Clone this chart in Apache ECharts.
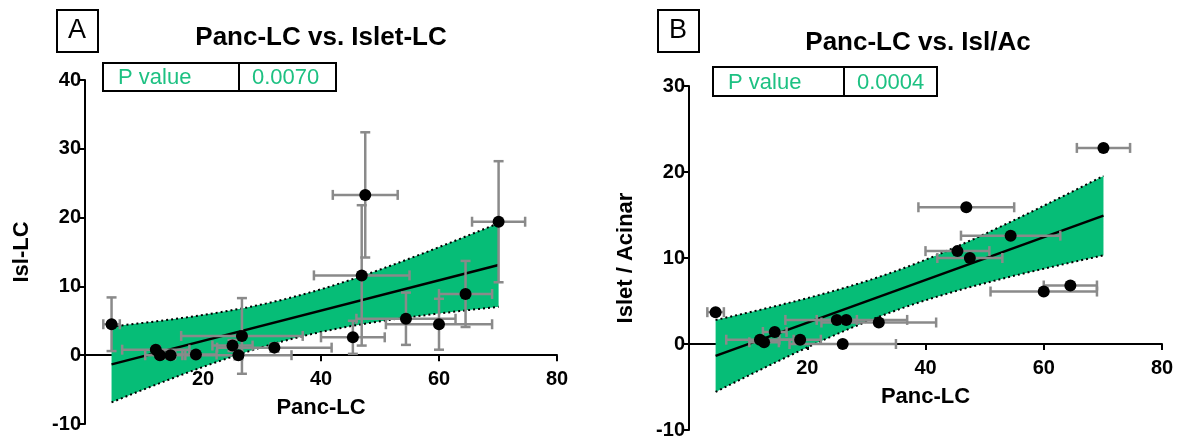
<!DOCTYPE html>
<html>
<head>
<meta charset="utf-8">
<script src="https://cdn.jsdelivr.net/npm/echarts@6.0.0/dist/echarts.min.js"></script>
<style>
  html, body { margin: 0; padding: 0; background: #ffffff; }
  #chart { width: 1177px; height: 438px; }
</style>
</head>
<body>
<div id="chart"></div>
<script>
// Pancreas lymphocyte counts (shared x values) with SEM
const pancLC    = [4.5, 12.0, 12.7, 14.5, 18.8, 25.0, 26.0, 26.6, 32.1, 45.4, 46.9, 47.5, 54.4, 60.0, 64.5, 70.1];
const pancLCErr = [1.4, 5.7, 2.5, 2.0, 3.5, 3.4, 9.0, 10.3, 9.7, 5.4, 8.1, 5.5, 8.4, 9.0, 4.5, 4.5];

// Panel A: islet lymphocyte counts with SEM
const isletLC    = [4.5, 0.8, 0.0, 0.0, 0.1, 1.4, 0.0, 2.8, 1.1, 2.6, 11.6, 23.3, 5.3, 4.5, 8.9, 19.4];
const isletLCErr = [3.9, 0.5, 0.5, 0.5, 0.5, 0.8, 0.6, 5.5, 0.6, 2.4, 10.2, 9.1, 3.8, 3.7, 4.8, 8.8];

// Panel B: islet / acinar ratio
const isletAcinar    = [3.7, 0.5, 0.2, 1.4, 0.5, 2.8, 0.0, 2.8, 2.5, 10.8, 15.9, 10.0, 12.6, 6.1, 6.8, 22.8];
const isletAcinarErr = [0, 0, 0, 0, 0, 0, 0, 0, 0, 0, 0, 0, 0, 0, 0, 0];

const pValueA = '0.0070';
const pValueB = '0.0004';
const xTicksLabels = [20, 40, 60, 80];

const GREEN = '#06BD77';
const GREEN_TEXT = '#1DC182';
const GRAY = '#8a8a8a';
const FONT = 'Arial, "Liberation Sans", Helvetica, sans-serif';
const T_CRIT = 2.145; // two-sided 95 %, df = n - 2 = 14

// Plot rectangles of the two panels
const GRID_A = { left: 85, top: 80, width: 472, height: 344 };
const GRID_B = { left: 689, top: 86, width: 473, height: 344 };
const Y_A = { min: -10, max: 40 };
const Y_B = { min: -10, max: 30 };

// Ordinary least squares fit with 95 % confidence band of the mean
function linearFit(xs, ys) {
  const n = xs.length;
  const mx = xs.reduce((a, b) => a + b, 0) / n;
  const my = ys.reduce((a, b) => a + b, 0) / n;
  let sxx = 0, sxy = 0;
  for (let i = 0; i < n; i++) { sxx += (xs[i] - mx) ** 2; sxy += (xs[i] - mx) * (ys[i] - my); }
  const slope = sxy / sxx;
  const icpt = my - slope * mx;
  let ssr = 0;
  for (let i = 0; i < n; i++) ssr += (ys[i] - (icpt + slope * xs[i])) ** 2;
  const s = Math.sqrt(ssr / (n - 2));
  const x0 = Math.min(...xs), x1 = Math.max(...xs);
  const line = [[x0, icpt + slope * x0], [x1, icpt + slope * x1]];
  const upper = [], lower = [];
  const steps = 60;
  for (let k = 0; k <= steps; k++) {
    const x = x0 + (x1 - x0) * k / steps;
    const yh = icpt + slope * x;
    const h = T_CRIT * s * Math.sqrt(1 / n + (x - mx) ** 2 / sxx);
    upper.push([x, yh + h]);
    lower.push([x, yh - h]);
  }
  return { line, upper, lower };
}

const fitA = linearFit(pancLC, isletLC);
const fitB = linearFit(pancLC, isletAcinar);

function bandSeries(fit, idx) {
  return {
    type: 'custom', xAxisIndex: idx, yAxisIndex: idx, z: 2, silent: true,
    data: [0],
    renderItem: (params, api) => {
      const pts = fit.upper.map(p => api.coord(p)).concat(fit.lower.slice().reverse().map(p => api.coord(p)));
      return { type: 'polygon', shape: { points: pts }, style: { fill: GREEN } };
    }
  };
}
function edgeSeries(data, idx) {
  return {
    type: 'line', xAxisIndex: idx, yAxisIndex: idx, z: 3, silent: true,
    data: data, showSymbol: false, symbol: 'none',
    lineStyle: { color: '#000', width: 2, type: [2, 3] }
  };
}
function fitLineSeries(fit, idx) {
  return {
    type: 'line', xAxisIndex: idx, yAxisIndex: idx, z: 4, silent: true,
    data: fit.line, showSymbol: false, symbol: 'none',
    lineStyle: { color: '#000', width: 2.5 }
  };
}
function errorSeries(xs, xe, ys, ye, idx) {
  const cap = 5;
  return {
    type: 'custom', xAxisIndex: idx, yAxisIndex: idx, z: 5, silent: true,
    data: xs.map((x, i) => [x, ys[i], xe[i], ye[i]]),
    renderItem: (params, api) => {
      const x = api.value(0), y = api.value(1), ex = api.value(2), ey = api.value(3);
      const st = { stroke: GRAY, lineWidth: 2.5 };
      const kids = [];
      if (ex > 0) {
        const a = api.coord([x - ex, y]), b = api.coord([x + ex, y]);
        kids.push({ type: 'line', shape: { x1: a[0], y1: a[1], x2: b[0], y2: b[1] }, style: st });
        kids.push({ type: 'line', shape: { x1: a[0], y1: a[1] - cap, x2: a[0], y2: a[1] + cap }, style: st });
        kids.push({ type: 'line', shape: { x1: b[0], y1: b[1] - cap, x2: b[0], y2: b[1] + cap }, style: st });
      }
      if (ey > 0) {
        const a = api.coord([x, y + ey]), b = api.coord([x, y - ey]);
        kids.push({ type: 'line', shape: { x1: a[0], y1: a[1], x2: b[0], y2: b[1] }, style: st });
        kids.push({ type: 'line', shape: { x1: a[0] - cap, y1: a[1], x2: a[0] + cap, y2: a[1] }, style: st });
        kids.push({ type: 'line', shape: { x1: b[0] - cap, y1: b[1], x2: b[0] + cap, y2: b[1] }, style: st });
      }
      return { type: 'group', children: kids };
    }
  };
}
function pointSeries(xs, ys, idx) {
  return {
    type: 'scatter', xAxisIndex: idx, yAxisIndex: idx, z: 6, silent: true,
    data: xs.map((x, i) => [x, ys[i]]),
    symbol: 'circle', symbolSize: 12, itemStyle: { color: '#000', opacity: 1 }
  };
}

// x axis drawn along y = 0: shift it up from the grid bottom by the height of the negative range
function xAxis(idx, grid, yr) {
  const zeroOffset = grid.height * (0 - yr.min) / (yr.max - yr.min);
  return {
    type: 'value', gridIndex: idx, min: 0, max: 80, interval: 20,
    position: 'bottom', offset: -zeroOffset,
    axisLine: { onZero: false, lineStyle: { color: '#000', width: 2 } },
    axisTick: { length: 6, lineStyle: { color: '#000', width: 2 } },
    axisLabel: {
      margin: 14, color: '#000', fontFamily: FONT, fontWeight: 'bold', fontSize: 20,
      formatter: v => (xTicksLabels.includes(v) ? String(v) : '')
    },
    splitLine: { show: false },
    name: 'Panc-LC', nameLocation: 'middle', nameGap: 42,
    nameTextStyle: { color: '#000', fontFamily: FONT, fontWeight: 'bold', fontSize: 22 }
  };
}
function yAxis(idx, yr, title) {
  return {
    type: 'value', gridIndex: idx, min: yr.min, max: yr.max, interval: 10,
    axisLine: { onZero: false, lineStyle: { color: '#000', width: 2 } },
    axisTick: { length: 7, lineStyle: { color: '#000', width: 2 } },
    axisLabel: { margin: 4, color: '#000', fontFamily: FONT, fontWeight: 'bold', fontSize: 20 },
    splitLine: { show: false },
    name: title, nameLocation: 'middle', nameGap: 52, nameRotate: 90,
    nameTextStyle: { color: '#000', fontFamily: FONT, fontWeight: 'bold', fontSize: 22 }
  };
}

function panelGraphics(letter, bx, title, tx, ty, table) {
  const g = [];
  g.push({ type: 'rect', left: bx, top: 9, shape: { width: 41, height: 42 },
           style: { fill: '#fff', stroke: '#000', lineWidth: 2 } });
  g.push({ type: 'text', x: bx + 21, y: 31, style: { text: letter, fill: '#000', font: '27px ' + FONT,
           textAlign: 'center', textVerticalAlign: 'middle' } });
  g.push({ type: 'text', x: tx, y: ty, style: { text: title, fill: '#000', font: 'bold 26px ' + FONT,
           textAlign: 'center', textVerticalAlign: 'middle' } });
  const t = table;
  g.push({ type: 'rect', shape: { x: t.x0, y: t.y0, width: t.x1 - t.x0, height: t.y1 - t.y0 },
           style: { fill: '#fff', stroke: '#000', lineWidth: 2 } });
  g.push({ type: 'line', shape: { x1: t.xd, y1: t.y0, x2: t.xd, y2: t.y1 }, style: { stroke: '#000', lineWidth: 2 } });
  g.push({ type: 'text', x: t.x0 + 15, y: (t.y0 + t.y1) / 2 + 1, style: { text: 'P value', fill: GREEN_TEXT,
           font: '22px ' + FONT, textVerticalAlign: 'middle' } });
  g.push({ type: 'text', x: t.xd + 13, y: (t.y0 + t.y1) / 2 + 1, style: { text: t.p, fill: GREEN_TEXT,
           font: '22px ' + FONT, textVerticalAlign: 'middle' } });
  return g;
}

const chart = echarts.init(document.getElementById('chart'), null, { renderer: 'canvas' });
chart.setOption({
  animation: false,
  backgroundColor: '#ffffff',
  grid: [
    Object.assign({ outerBoundsMode: 'none', containLabel: false }, GRID_A),
    Object.assign({ outerBoundsMode: 'none', containLabel: false }, GRID_B)
  ],
  xAxis: [xAxis(0, GRID_A, Y_A), xAxis(1, GRID_B, Y_B)],
  yAxis: [yAxis(0, Y_A, 'Isl-LC'), yAxis(1, Y_B, 'Islet / Acinar')],
  series: [
    bandSeries(fitA, 0), edgeSeries(fitA.upper, 0), edgeSeries(fitA.lower, 0), fitLineSeries(fitA, 0),
    errorSeries(pancLC, pancLCErr, isletLC, isletLCErr, 0), pointSeries(pancLC, isletLC, 0),
    bandSeries(fitB, 1), edgeSeries(fitB.upper, 1), edgeSeries(fitB.lower, 1), fitLineSeries(fitB, 1),
    errorSeries(pancLC, pancLCErr, isletAcinar, isletAcinarErr, 1), pointSeries(pancLC, isletAcinar, 1)
  ],
  graphic: [].concat(
    panelGraphics('A', 56, 'Panc-LC vs. Islet-LC', 321, 38,
      { x0: 103, y0: 63, x1: 336, y1: 91, xd: 239, p: pValueA }),
    panelGraphics('B', 657, 'Panc-LC vs. Isl/Ac', 918, 43,
      { x0: 713, y0: 67, x1: 937, y1: 96, xd: 844, p: pValueB })
  )
});
</script>
</body>
</html>
